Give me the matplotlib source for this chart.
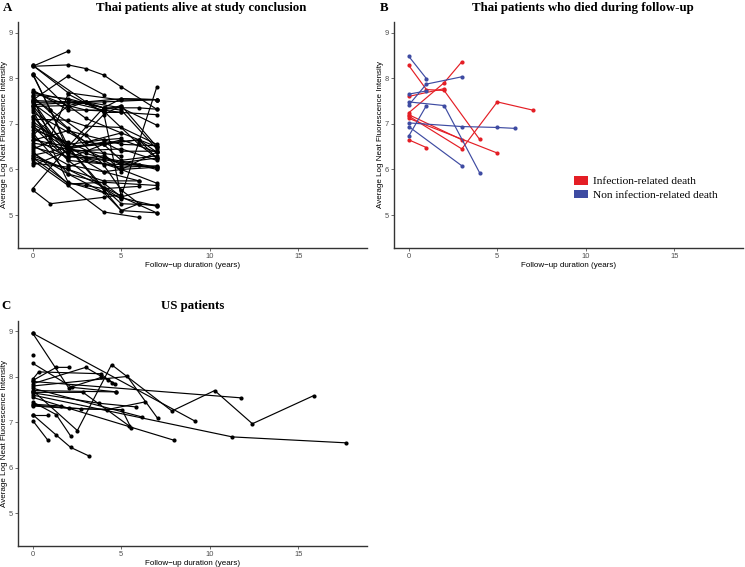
import matplotlib
matplotlib.use("Agg")
import matplotlib.pyplot as plt
from matplotlib.patches import Patch

# ---------------- data ----------------
# Panel A: Thai patients alive at study conclusion (time in years, log NFI)
thai_alive_t = [
    [0, 2], [0, 2, 3, 4, 5, 7], [0, 2, 4], [0, 2, 5, 7], [0, 2, 3, 5, 7],
    [0, 1, 2, 4, 6], [0, 3, 5, 7], [0, 2, 4, 5], [0, 2, 4, 5, 7], [0, 4, 6, 7],
    [0, 2, 4, 5, 7], [0, 1, 3, 5], [0, 2, 4, 5, 7], [0, 2, 4, 7], [0, 3, 4, 5],
    [0, 2, 3, 4, 6, 7], [0, 2, 4, 5, 7], [0, 2, 5, 7], [0, 2, 4, 5, 7], [0, 2, 3, 5, 7],
    [0, 2, 4, 5], [0, 1, 2, 4, 5, 7], [0, 2, 4, 7], [0, 2, 3, 4, 5, 7], [0, 2, 4, 6, 7],
    [0, 2, 4, 5, 7], [0, 2, 4, 5], [0, 2, 4, 5, 7], [0, 2, 3, 4, 5, 6, 7], [0, 2, 4, 5, 6, 7],
    [0, 2, 4, 5, 7], [0, 2, 3, 4, 6], [0, 2, 4, 6], [0, 2, 3, 5, 7], [0, 2, 4, 5],
    [0, 2, 5, 7], [0, 1, 4, 5], [0, 2, 4], [0, 1, 2, 4, 5, 7], [0, 5, 7],
    [0, 2, 4, 5, 6], [0, 2, 3, 5], [0, 3, 5, 6, 7], [0, 2, 4, 6], [0, 3, 4, 5, 7],
    [0, 2, 3, 5, 7], [0, 2, 4, 5, 7], [0, 1, 2, 5, 7], [0, 2, 4, 7], [0, 3, 5, 7],
    [0, 2, 6, 7], [0, 2, 5, 7], [0, 2, 4, 6],
]
thai_alive_v = [
    [8.26, 8.59], [8.26, 8.29, 8.21, 8.07, 7.81, 7.32], [7.52, 8.05, 7.64], [8.28, 7.68, 7.52, 7.53], [8.10, 7.35, 7.48, 7.55, 7.53],
    [8.08, 7.30, 6.40, 5.95, 5.75], [8.28, 7.48, 7.35, 6.97], [8.10, 6.50, 5.60, 5.35], [7.74, 7.30, 7.30, 7.25, 7.20], [7.69, 7.35, 7.35, 7.32],
    [7.64, 7.55, 7.35, 7.55, 7.53], [7.55, 7.30, 6.75, 5.95], [7.51, 7.48, 7.30, 7.40, 6.50], [7.47, 7.48, 7.48, 7.53], [7.42, 7.48, 7.25, 7.25],
    [7.38, 7.40, 7.30, 7.28, 6.55, 6.25], [7.35, 6.30, 6.20, 6.00, 6.05], [7.31, 5.72, 5.38, 5.20], [7.18, 6.20, 5.60, 5.25, 5.22], [7.15, 6.45, 6.35, 6.15, 6.25],
    [6.99, 6.55, 6.65, 6.68], [6.94, 6.70, 6.45, 6.60, 6.40, 6.40], [6.87, 6.60, 6.25, 6.05], [6.75, 7.40, 7.48, 7.35, 7.30, 6.45], [6.71, 6.25, 6.55, 6.65, 6.38],
    [6.64, 6.85, 6.65, 6.55, 6.52], [6.58, 6.45, 6.35, 6.30], [6.53, 6.10, 5.95, 6.00, 5.70], [6.49, 6.28, 6.25, 6.30, 6.10, 6.10, 6.00], [6.36, 5.90, 5.50, 5.10, 5.25, 5.20],
    [6.31, 6.48, 6.55, 6.65, 6.38], [6.26, 5.70, 5.65, 5.58, 5.63], [6.20, 5.65, 5.07, 4.95], [6.14, 6.05, 6.20, 6.05, 6.08], [6.09, 6.40, 7.20, 7.40],
    [6.30, 6.00, 5.42, 7.80], [5.55, 5.25, 5.39, 5.45], [5.58, 6.50, 7.35], [7.58, 6.70, 7.65, 7.25, 5.40, 5.05], [7.40, 5.10, 5.05],
    [7.60, 6.90, 6.10, 5.55, 5.25], [7.70, 7.40, 7.12, 6.80], [7.45, 6.60, 6.80, 6.65, 6.25], [6.95, 6.20, 6.12, 6.10], [7.25, 6.60, 6.55, 6.20, 6.30],
    [7.10, 7.08, 6.95, 6.92, 6.55], [6.80, 5.90, 5.70, 5.40, 5.60], [6.45, 6.60, 6.35, 6.15, 6.03], [6.40, 5.68, 5.72, 5.65], [7.05, 6.25, 6.00, 6.38],
    [6.65, 6.50, 6.65, 6.50], [7.50, 6.40, 6.45, 6.20], [6.25, 6.00, 5.75, 5.75],
]

# Panel B: Thai patients who died during follow-up
died_infection_t = [[0, 1, 2, 4], [0, 2], [0, 2, 3], [0, 3, 5, 7], [0, 5], [0, 3], [0, 1]]
died_infection_v = [[8.28, 7.75, 7.73, 6.66], [7.60, 7.77], [7.24, 7.90, 8.36],
                    [7.17, 6.45, 7.48, 7.30], [7.12, 6.36], [7.20, 6.65], [6.65, 6.48]]
died_other_t = [[0, 1], [0, 1, 3], [0, 1], [0, 2, 4], [0, 1], [0, 3, 5, 6], [0, 3]]
died_other_v = [[8.48, 7.99], [7.41, 7.87, 8.03], [7.65, 7.72], [7.48, 7.40, 5.93],
                [6.73, 7.40], [7.02, 6.94, 6.92, 6.90], [6.94, 6.08]]
legend_labels = ["Infection-related death", "Non infection-related death"]

# Panel C: US patients
us_t = [
    [0, 9.15], [0, 2.03, 3.88], [0, 1.33, 2.03], [0, 0.34, 3.83, 4.26, 4.64],
    [0, 2.99, 4.5], [0, 2.23, 4.73], [0, 5.34, 7.05],
    [0, 2.52, 4.45, 7.86, 10.27, 12.4, 15.87], [0, 11.74], [0, 11.27, 17.67],
    [0, 7.95], [0, 1.33, 2.14, 3.18], [0, 0.85], [0, 0.85], [0, 1.33, 2.14],
    [0, 2.03, 4.2, 6.34], [0, 2.75, 5.04, 5.55], [0, 3.75, 5.83], [0, 2.84, 5.45],
    [0, 6.16], [0, 4.73], [0], [0, 1.6],
]
us_v = [
    [8.96, 7.03], [8.96, 7.76, 7.99], [7.92, 8.21, 8.21], [7.95, 8.11, 8.07, 7.94, 7.85],
    [7.85, 8.21, 7.87], [8.30, 7.77, 7.67], [7.80, 8.01, 7.09],
    [7.70, 6.82, 8.27, 7.25, 7.70, 6.97, 7.59], [7.90, 7.54], [7.60, 6.68, 6.55],
    [7.55, 6.61], [7.17, 6.72, 6.45, 6.26], [7.17, 7.17], [7.04, 6.61], [7.45, 7.17, 6.70],
    [7.36, 7.31, 7.28, 7.45], [7.38, 7.30, 7.28, 6.88], [7.65, 7.42, 7.34], [7.66, 7.66, 6.92],
    [7.75, 7.12], [7.70, 7.67], [8.49], [7.40, 7.36],
]

x_ticks = [0, 5, 10, 15]
y_ticks = [5, 6, 7, 8, 9]
x_label = "Follow\u2212up duration (years)"
y_label = "Average Log Neat Fluorescence Intensity"

RED = "#E41E25"
BLUE = "#3E4BA2"

# ---------------- figure ----------------
W, H = 745, 567
fig = plt.figure(figsize=(W / 100, H / 100), dpi=100)


def px_axes(l, t, r, b):
    return fig.add_axes([l / W, 1 - b / H, (r - l) / W, (b - t) / H])


def style(ax, left_px):
    ax.set_xlim(-0.83, 18.87)
    ax.set_ylim(4.28, 9.23)
    for s in ("top", "right"):
        ax.spines[s].set_visible(False)
    for s in ("left", "bottom"):
        ax.spines[s].set_color("#333333")
        ax.spines[s].set_linewidth(1.0)
    ax.set_xticks(x_ticks)
    ax.set_yticks(y_ticks)
    ax.tick_params(axis="both", length=2, width=0.6, color="#555555",
                   labelsize=5.4, labelcolor="#4D4D4D", pad=1.5)
    for lab in ax.get_xticklabels() + ax.get_yticklabels():
        lab.set_family("Liberation Sans")
    ax.set_xlabel(x_label, fontsize=5.8, family="Liberation Sans", labelpad=1.5)
    ax.set_ylabel(y_label, fontsize=5.8, family="Liberation Sans", va="center")
    # label centre about 13 px left of the axis line
    ax.yaxis.set_label_coords(-13.0 / 349.0, 0.5)


def draw(ax, ts, vs, color):
    for t, v in zip(ts, vs):
        ax.plot(t, v, color=color, lw=0.85, marker="o", ms=3.0,
                markeredgewidth=0, solid_capstyle="round")


axA = px_axes(18, 22, 367, 248)
axB = px_axes(394, 22, 743, 248)
axC = px_axes(18, 321, 367, 546)
for ax in (axA, axB, axC):
    style(ax, 18)

draw(axA, thai_alive_t, thai_alive_v, "black")
draw(axB, died_infection_t, died_infection_v, RED)
draw(axB, died_other_t, died_other_v, BLUE)
draw(axC, us_t, us_v, "black")

handles = [Patch(facecolor=RED, edgecolor="none"), Patch(facecolor=BLUE, edgecolor="none")]
fig.legend(handles, legend_labels, loc="upper left",
           bbox_to_anchor=(574 / W, 1 - 176 / H), frameon=False,
           prop={"family": "Liberation Serif", "size": 8.2},
           handlelength=1.2, handleheight=0.8, handletextpad=0.45,
           labelspacing=0.28, borderpad=0, borderaxespad=0)

serif_bold = dict(family="Liberation Serif", fontweight="bold", fontsize=9.3)
fig.text(201 / W, 1 - 8 / H, "Thai patients alive at study conclusion",
         ha="center", va="center", **serif_bold)
fig.text(583 / W, 1 - 8 / H, "Thai patients who died during follow-up",
         ha="center", va="center", **serif_bold)
fig.text(193 / W, 1 - 306 / H, "US patients", ha="center", va="center", **serif_bold)
fig.text(3 / W, 1 - 8 / H, "A", ha="left", va="center", **serif_bold)
fig.text(380 / W, 1 - 8 / H, "B", ha="left", va="center", **serif_bold)
fig.text(1 / W, 1 - 306 / H, "C", ha="left", va="center", **serif_bold)

fig.savefig("out.png", dpi=100, facecolor="white")
